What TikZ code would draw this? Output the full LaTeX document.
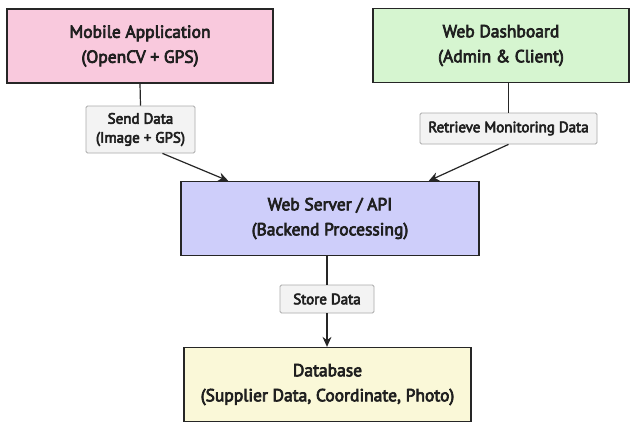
\documentclass[tikz,border=0pt]{standalone}
\usepackage{fontspec}
\setmainfont{PT Sans}[FakeBold=4]
\usepackage{tikz}
\usetikzlibrary{arrows.meta,calc}

\definecolor{mobilepink}{RGB}{249,201,221}
\definecolor{dashgreen}{RGB}{214,245,208}
\definecolor{serverblue}{RGB}{206,206,250}
\definecolor{dbyellow}{RGB}{250,248,216}
\definecolor{tagfill}{RGB}{243,243,243}
\definecolor{tagline}{RGB}{170,170,170}

\tikzset{
  block/.style={draw=black!85,line width=1.3pt,minimum height=74pt,align=center,
    font=\fontsize{17.5}{25}\selectfont,text=black!88},
  tag/.style={draw=tagline,fill=tagfill,line width=0.8pt,rounded corners=1.5pt,
    align=center,font=\fontsize{15}{19}\selectfont,text=black!88,inner sep=3pt},
  link/.style={line width=1.2pt,draw=black!85},
  flow/.style={link,-{Stealth[length=10pt,width=9pt]}}
}

\begin{document}
\begin{tikzpicture}[x=1pt,y=-1pt]
  \useasboundingbox[fill=white] (0,0) rectangle (636,425);
  \node[block,fill=mobilepink,minimum width=266pt] (mobile) at (140,46) {Mobile Application\\(OpenCV + GPS)};
  \node[block,fill=dashgreen,minimum width=256pt] (dash) at (501,45.5) {Web Dashboard\\(Admin \& Client)};
  \node[block,fill=serverblue,minimum width=298pt] (server) at (330,218.5) {Web Server / API\\(Backend Processing)};
  \node[block,fill=dbyellow,minimum width=287pt] (db) at (327.5,384.5) {Database\\(Supplier Data, Coordinate, Photo)};
  \node[tag,minimum width=109pt,minimum height=47pt] (send) at (140.5,129.5) {Send Data\\(Image + GPS)};
  \node[tag,minimum width=177pt,minimum height=31pt] (fetch) at (508.5,128.5) {Retrieve Monitoring Data};
  \node[tag,minimum width=94pt,minimum height=28pt] (store) at (327,299) {Store Data};
  % links into the tags
  \draw[link] (mobile.south) -- (send.north);
  \draw[link] (dash.south -| fetch.north) -- (fetch.north);
  \draw[link] (server.south -| store.north) -- (store.north);
  % arrows out of the tags
  \draw[flow] ($(send.south west)!0.7!(send.south east)$) -- ($(server.north west)!0.16!(server.north east)$);
  \draw[flow] (fetch.south) -- ($(server.north west)!0.83!(server.north east)$);
  \draw[flow] (store.south) -- (db.north -| store.south);
\end{tikzpicture}
\end{document}
